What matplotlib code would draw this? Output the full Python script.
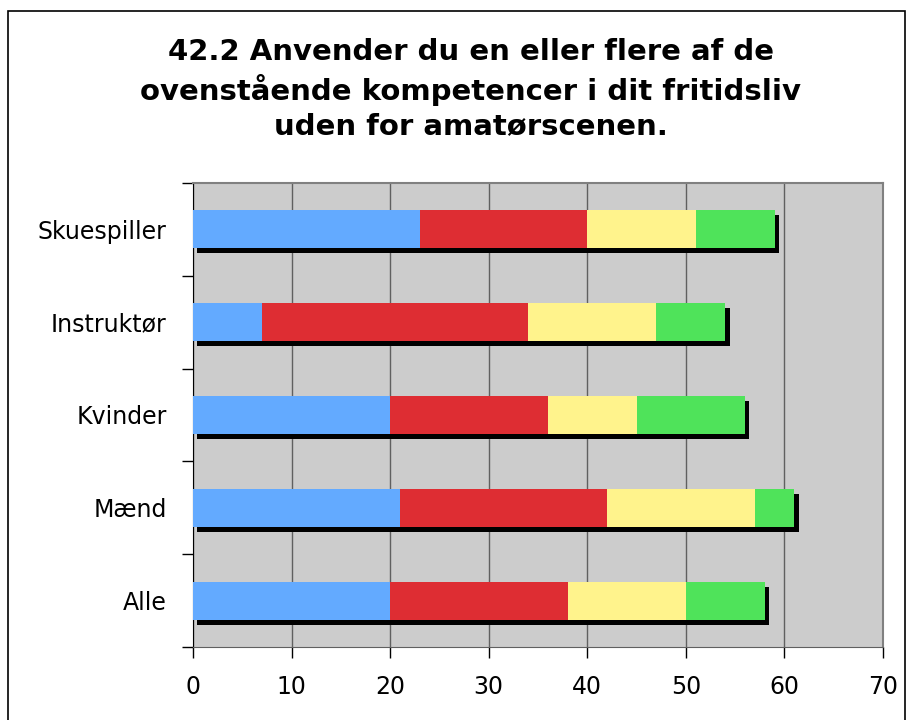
import numpy as np
import matplotlib.pyplot as plt
import matplotlib.patches as mpatches
from matplotlib.transforms import ScaledTranslation

kategorier = ["Alle", "Mænd", "Kvinder", "Instruktør", "Skuespiller"]
serie1 = [20, 21, 20, 7, 23]
serie2 = [18, 21, 16, 27, 17]
serie3 = [12, 15, 9, 13, 11]
serie4 = [8, 4, 11, 7, 8]
farver = ["#63aaff", "#de2d33", "#fff38c", "#4fe35a"]
xticks = [0, 10, 20, 30, 40, 50, 60, 70]

fig = plt.figure(figsize=(9.12, 7.2), dpi=100)
ax = fig.add_axes([193 / 912, 1 - 647 / 720, 690 / 912, 464 / 720])
ax.set_facecolor("#cccccc")

y = np.arange(len(kategorier))
serier = [serie1, serie2, serie3, serie4]
total = np.sum(serier, axis=0)

# skygge bag hver stak
skygge = ax.transData + ScaledTranslation(4.5 / 100, -5 / 100, fig.dpi_scale_trans)
ax.barh(y, total, height=0.41, color="black", transform=skygge, zorder=2)

venstre = np.zeros(len(kategorier))
for vals, farve in zip(serier, farver):
    ax.barh(y, vals, left=venstre, height=0.41, color=farve, zorder=3)
    venstre += vals

ax.set_xlim(0, 70)
ax.set_ylim(-0.5, 4.5)
ax.set_xticks(xticks)
ax.set_xticklabels([str(t) for t in xticks], fontsize=17)
ax.set_yticks(y)
ax.set_yticklabels(kategorier, fontsize=17)
ax.set_yticks(np.arange(-0.5, 5, 1), minor=True)
ax.tick_params(axis="y", which="major", length=0, pad=19)
ax.tick_params(axis="y", which="minor", length=8, width=1, color="black")
ax.tick_params(axis="x", length=8, width=1, color="black", pad=12)
ax.grid(axis="x", color="#606060", linewidth=1, zorder=1)
ax.set_axisbelow(True)

for s in ["top", "right"]:
    ax.spines[s].set_color("#808080")
    ax.spines[s].set_linewidth(1.5)
ax.spines["left"].set_color("black")
ax.spines["bottom"].set_color("#606060")

fig.text(0.516, 0.876,
         "42.2 Anvender du en eller flere af de\novenstående kompetencer i dit fritidsliv\nuden for amatørscenen.",
         ha="center", va="center", fontsize=21, fontweight="bold", linespacing=1.3)

ramme = mpatches.Rectangle((8 / 912, -0.01), 897 / 912, 1 - 11 / 720 + 0.01,
                           transform=fig.transFigure, fill=False, edgecolor="black",
                           linewidth=1.2)
fig.patches.append(ramme)

plt.savefig("out.png", dpi=100)
